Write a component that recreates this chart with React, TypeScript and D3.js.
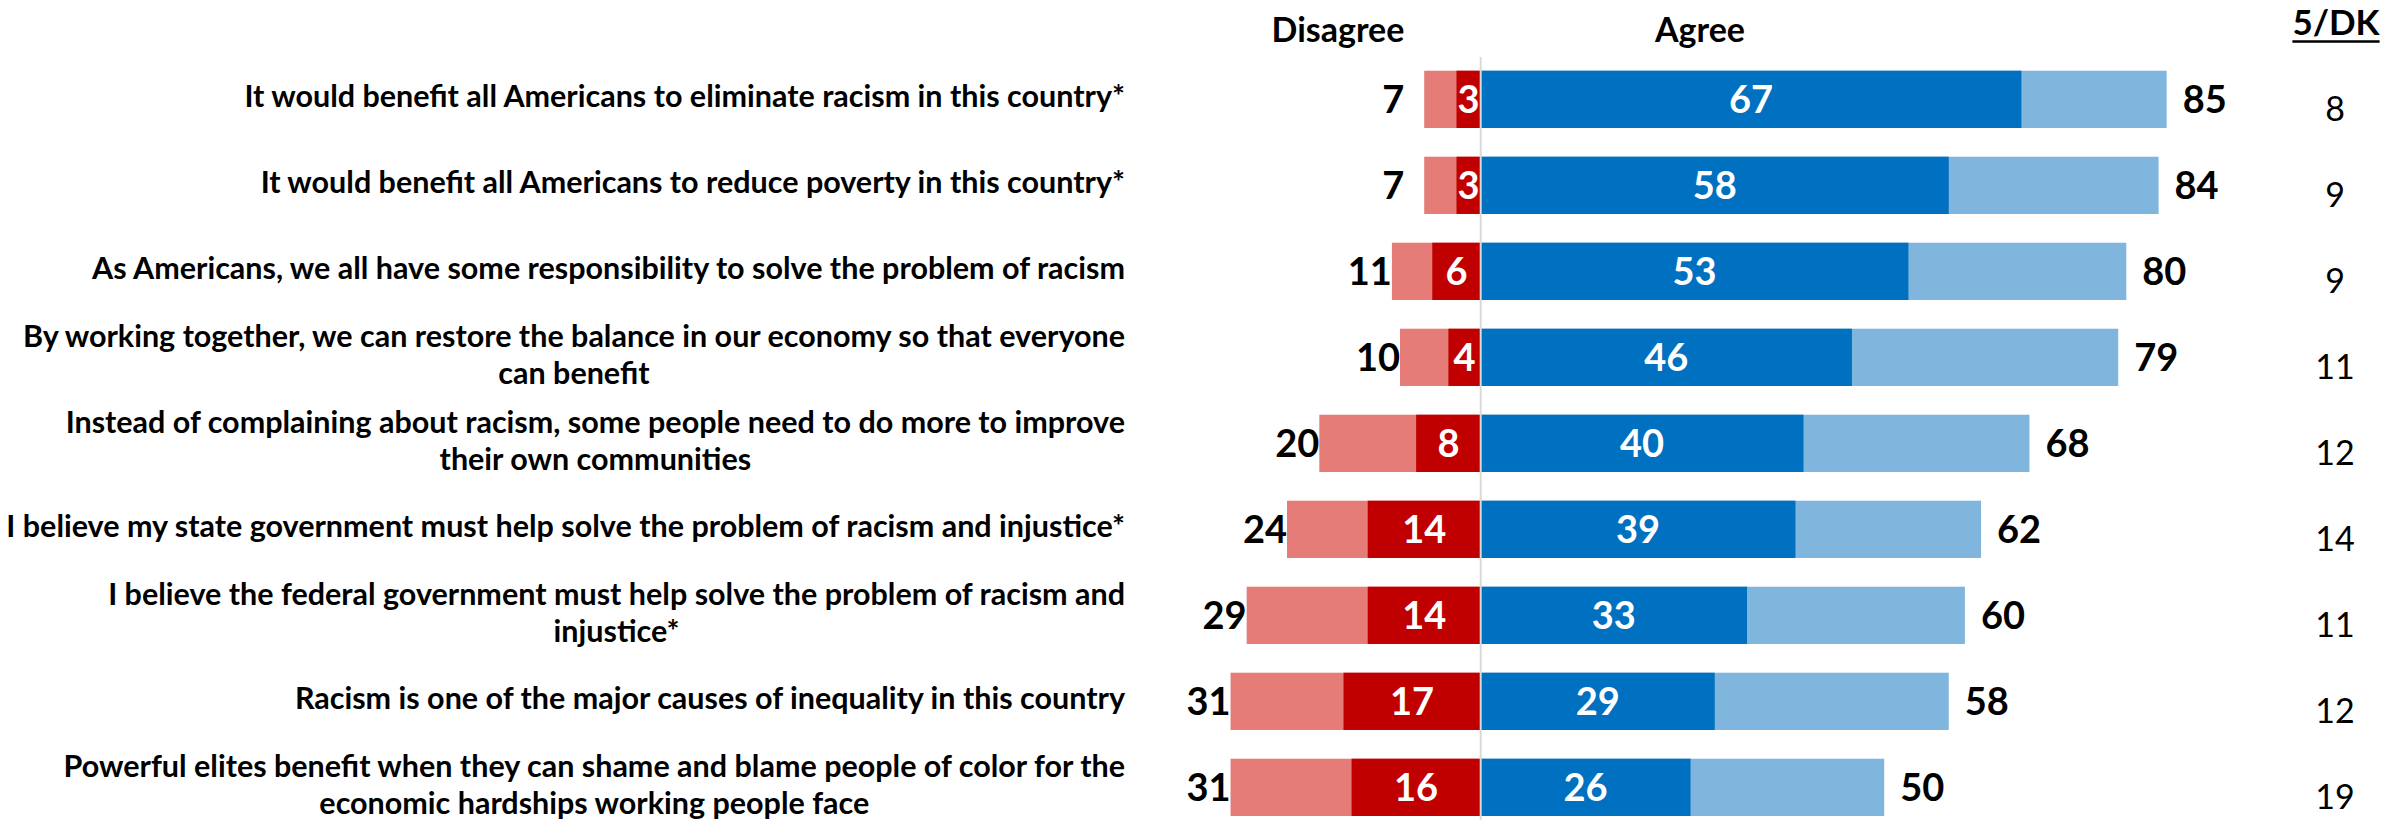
import React, { useEffect, useRef } from "react";
import * as d3 from "d3";

const categories: string[] = [
  "It would benefit all Americans to eliminate racism in this country*",
  "It would benefit all Americans to reduce poverty in this country*",
  "As Americans, we all have some responsibility to solve the problem of racism",
  "By working together, we can restore the balance in our economy so that everyone\ncan benefit",
  "Instead of complaining about racism, some people need to do more to improve\ntheir own communities",
  "I believe my state government must help solve the problem of racism and injustice*",
  "I believe the federal government must help solve the problem of racism and\ninjustice*",
  "Racism is one of the major causes of inequality in this country",
  "Powerful elites benefit when they can shame and blame people of color for the\neconomic hardships working people face",
];
const disagreeTotal = [7, 7, 11, 10, 20, 24, 29, 31, 31];
const strongDisagree = [3, 3, 6, 4, 8, 14, 14, 17, 16];
const agreeTotal = [85, 84, 80, 79, 68, 62, 60, 58, 50];
const strongAgree = [67, 58, 53, 46, 40, 39, 33, 29, 26];
const dkValues = [8, 9, 9, 11, 12, 14, 11, 12, 19];
const headers = { disagree: "Disagree", agree: "Agree", dk: "5/DK" };

const W = 2397;
const H = 820;
const FONT = "Lato, 'Noto Sans', sans-serif";
const C_LIGHT_RED = "#E57C78";
const C_DARK_RED = "#C00000";
const C_DARK_BLUE = "#0070C0";
const C_LIGHT_BLUE = "#80B6DE";

export default function App() {
  const ref = useRef<SVGSVGElement>(null);

  useEffect(() => {
    const svg = d3.select(ref.current);
    svg.selectAll("*").remove();

    const zero = 1480.7;
    const unit = 8.07;
    const x = d3.scaleLinear().domain([-100, 100]).range([zero - 100 * unit, zero + 100 * unit]);
    const idx = categories.map((_, i) => i);
    const y = d3
      .scaleBand<number>()
      .domain(idx)
      .range([56.35, 56.35 + 86 * categories.length])
      .paddingInner(0.334)
      .paddingOuter(0.167);
    const bw = y.bandwidth();
    const cy = (i: number) => (y(i) as number) + bw / 2;

    svg.append("rect").attr("width", W).attr("height", H).attr("fill", "#fff");

    // bars
    const g = svg.append("g");
    const rows = g.selectAll("g.row").data(idx).join("g").attr("class", "row");
    rows
      .append("rect")
      .attr("x", (i) => x(-disagreeTotal[i]))
      .attr("y", (i) => y(i) as number)
      .attr("width", (i) => x(0) - x(-disagreeTotal[i]))
      .attr("height", bw)
      .attr("fill", C_LIGHT_RED);
    rows
      .append("rect")
      .attr("x", (i) => x(-strongDisagree[i]))
      .attr("y", (i) => y(i) as number)
      .attr("width", (i) => x(0) - x(-strongDisagree[i]))
      .attr("height", bw)
      .attr("fill", C_DARK_RED);
    rows
      .append("rect")
      .attr("x", x(0))
      .attr("y", (i) => y(i) as number)
      .attr("width", (i) => x(agreeTotal[i]) - x(0))
      .attr("height", bw)
      .attr("fill", C_LIGHT_BLUE);
    rows
      .append("rect")
      .attr("x", x(0))
      .attr("y", (i) => y(i) as number)
      .attr("width", (i) => x(strongAgree[i]) - x(0))
      .attr("height", bw)
      .attr("fill", C_DARK_BLUE);

    // center line
    svg
      .append("line")
      .attr("x1", x(0))
      .attr("x2", x(0))
      .attr("y1", 57)
      .attr("y2", H)
      .attr("stroke", "#D9D9D9")
      .attr("stroke-width", 2);

    const valSize = 38;
    // inner labels
    rows
      .append("text")
      .attr("x", (i) => (x(-strongDisagree[i]) + x(0)) / 2)
      .attr("y", (i) => cy(i) + valSize * 0.36)
      .attr("text-anchor", "middle")
      .attr("font-family", FONT)
      .attr("font-weight", 700)
      .attr("font-size", valSize)
      .attr("fill", "#fff")
      .text((i) => strongDisagree[i]);
    rows
      .append("text")
      .attr("x", (i) => (x(strongAgree[i]) + x(0)) / 2)
      .attr("y", (i) => cy(i) + valSize * 0.36)
      .attr("text-anchor", "middle")
      .attr("font-family", FONT)
      .attr("font-weight", 700)
      .attr("font-size", valSize)
      .attr("fill", "#fff")
      .text((i) => strongAgree[i]);
    // totals
    rows
      .append("text")
      .attr("x", (i) => x(-disagreeTotal[i]) - (disagreeTotal[i] < 10 ? 20 : 0))
      .attr("y", (i) => cy(i) + valSize * 0.36)
      .attr("text-anchor", "end")
      .attr("font-family", FONT)
      .attr("font-weight", 700)
      .attr("font-size", valSize)
      .attr("fill", "#000")
      .text((i) => disagreeTotal[i]);
    rows
      .append("text")
      .attr("x", (i) => x(agreeTotal[i]) + 16)
      .attr("y", (i) => cy(i) + valSize * 0.36)
      .attr("text-anchor", "start")
      .attr("font-family", FONT)
      .attr("font-weight", 700)
      .attr("font-size", valSize)
      .attr("fill", "#000")
      .text((i) => agreeTotal[i]);
    // 5/DK values
    const dkX = 2335;
    rows
      .append("text")
      .attr("x", dkX)
      .attr("y", (i) => cy(i) + 21.5)
      .attr("text-anchor", "middle")
      .attr("font-family", FONT)
      .attr("font-weight", 400)
      .attr("font-size", 34)
      .attr("fill", "#000")
      .text((i) => dkValues[i]);

    // category labels
    const labelRight = 1125;
    const labSize = 30.5;
    const lineH = 36.7;
    idx.forEach((i) => {
      const lines = categories[i].split("\n");
      const lg = svg.append("g");
      const n = lines.length;
      const texts = lines.map((ln, k) =>
        lg
          .append("text")
          .attr("y", cy(i) + 8 + (k - (n - 1) / 2) * lineH)
          .attr("text-anchor", "middle")
          .attr("font-family", FONT)
          .attr("font-weight", 700)
          .attr("font-size", labSize)
          .attr("fill", "#000")
          .text(ln)
      );
      const wMax = d3.max(texts, (t) => (t.node() as SVGTextElement).getComputedTextLength()) || 0;
      texts.forEach((t) => t.attr("x", labelRight - wMax / 2));
    });

    // headers
    svg
      .append("text")
      .attr("x", 1338)
      .attr("y", 41.7)
      .attr("text-anchor", "middle")
      .attr("font-family", FONT)
      .attr("font-weight", 700)
      .attr("font-size", 34)
      .text(headers.disagree);
    svg
      .append("text")
      .attr("x", 1700)
      .attr("y", 41.7)
      .attr("text-anchor", "middle")
      .attr("font-family", FONT)
      .attr("font-weight", 700)
      .attr("font-size", 34)
      .text(headers.agree);
    const dkT = svg
      .append("text")
      .attr("x", 2336)
      .attr("y", 35)
      .attr("text-anchor", "middle")
      .attr("font-family", FONT)
      .attr("font-weight", 700)
      .attr("font-size", 35)
      .text(headers.dk);
    const dkW = (dkT.node() as SVGTextElement).getComputedTextLength();
    svg
      .append("line")
      .attr("x1", 2336 - dkW / 2)
      .attr("x2", 2336 + dkW / 2)
      .attr("y1", 41.5)
      .attr("y2", 41.5)
      .attr("stroke", "#000")
      .attr("stroke-width", 2.5);
  }, []);

  return (
    <svg
      ref={ref}
      width={W}
      height={H}
      style={{ position: "absolute", left: 0, top: 0, display: "block" }}
    />
  );
}
